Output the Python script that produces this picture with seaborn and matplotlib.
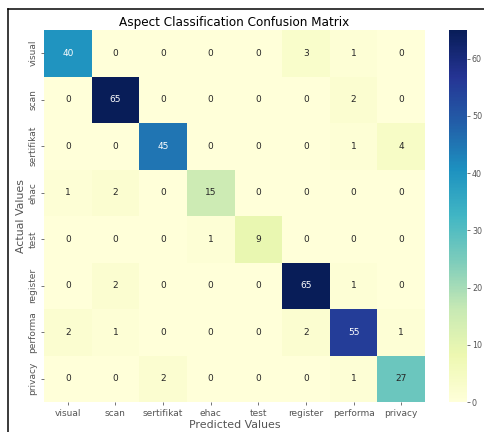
import numpy as np
import pandas as pd
import matplotlib
matplotlib.use("Agg")
import matplotlib.pyplot as plt
from matplotlib.lines import Line2D
import seaborn as sns

# Aspect labels and confusion matrix counts (rows = actual, cols = predicted)
aspects = ["visual", "scan", "sertifikat", "ehac", "test", "register", "performa", "privacy"]
row_visual = [40, 0, 0, 0, 0, 3, 1, 0]
row_scan = [0, 65, 0, 0, 0, 0, 2, 0]
row_sertifikat = [0, 0, 45, 0, 0, 0, 1, 4]
row_ehac = [1, 2, 0, 15, 0, 0, 0, 0]
row_test = [0, 0, 0, 1, 9, 0, 0, 0]
row_register = [0, 2, 0, 0, 0, 65, 1, 0]
row_performa = [2, 1, 0, 0, 0, 2, 55, 1]
row_privacy = [0, 0, 2, 0, 0, 0, 1, 27]

cm = pd.DataFrame(
    [row_visual, row_scan, row_sertifikat, row_ehac,
     row_test, row_register, row_performa, row_privacy],
    index=aspects, columns=aspects,
)

DPI = 72
fig = plt.figure(figsize=(484 / DPI, 432 / DPI), dpi=DPI)
ax = fig.add_axes([44 / 484, 1 - 402 / 432, 381 / 484, 372 / 432])
cax = fig.add_axes([449 / 484, 1 - 402 / 432, 18 / 484, 372 / 432])

grey = "#555555"
sns.heatmap(cm, annot=True, fmt="d", cmap="YlGnBu", ax=ax, cbar_ax=cax,
            annot_kws={"fontsize": 9})

ax.set_title("Aspect Classification Confusion Matrix", fontsize=12, color="black", pad=4)
ax.set_xlabel("Predicted Values", fontsize=11, color=grey, labelpad=2)
ax.set_ylabel("Actual Values", fontsize=11, color=grey, labelpad=2)
ax.tick_params(axis="both", labelsize=9, colors=grey, length=3)
ax.tick_params(axis="y", rotation=90)
for t in ax.get_yticklabels():
    t.set_va("center")

cax.tick_params(labelsize=8, colors=grey, length=3, pad=2)
cax.set_yticks([0, 10, 20, 30, 40, 50, 60])

# screenshot frame (left and top edges)
fig.add_artist(Line2D([8 / 484, 8 / 484], [0, 1 - 9 / 432], color="black", lw=1.5,
                      transform=fig.transFigure))
fig.add_artist(Line2D([8 / 484, 1], [1 - 9 / 432, 1 - 9 / 432], color="black", lw=1.5,
                      transform=fig.transFigure))

fig.savefig("out.png", dpi=DPI)
